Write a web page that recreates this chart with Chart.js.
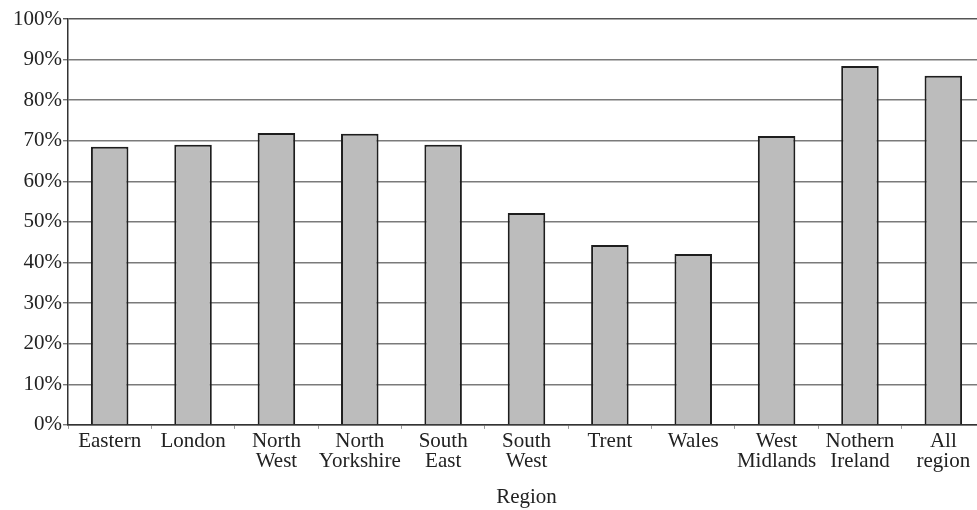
<!DOCTYPE html>
<html>
<head>
<meta charset="utf-8">
<script src="https://cdn.jsdelivr.net/npm/chart.js@4"></script>
<style>
  html, body { margin: 0; padding: 0; background: #fff; overflow: hidden; }
  #wrap { width: 977px; height: 510px; overflow: hidden; }
</style>
</head>
<body>
<div id="wrap"><canvas id="chart" width="985" height="510"></canvas></div>
<script>
const regions = [
    ['Eastern'], ['London'], ['North', 'West'], ['North', 'Yorkshire'], ['South', 'East'],
    ['South', 'West'], ['Trent'], ['Wales'], ['West', 'Midlands'], ['Nothern', 'Ireland'], ['All', 'region']
];
const shares = [68.5, 69.0, 71.9, 71.7, 69.0, 52.2, 44.3, 42.1, 71.2, 88.4, 86.0];
const yTicks = [0, 10, 20, 30, 40, 50, 60, 70, 80, 90, 100];

const tickFont = { family: '"Liberation Serif", "Times New Roman", serif', size: 21, lineHeight: 0.95 };
const titleFont = { family: '"Liberation Serif", "Times New Roman", serif', size: 21 };

const barConf = {
    type: 'bar',
    data: {
        labels: regions,
        datasets: [{
            data: shares,
            backgroundColor: '#bcbcbc',
            borderColor: '#1e1e1e',
            borderWidth: 2,
            barPercentage: 0.45,
            categoryPercentage: 1.0,
        }]
    },
    options: {
        responsive: false,
        animation: false,
        layout: { padding: { top: 19, right: 0, bottom: 0, left: 0 } },
        plugins: {
            legend: { display: false },
            tooltip: { enabled: false }
        },
        scales: {
            x: {
                grid: { display: true, drawOnChartArea: false, drawTicks: true, tickLength: 4, color: '#999', offset: true },
                border: { color: '#333', width: 1.5 },
                ticks: { color: '#222', font: tickFont, maxRotation: 0, autoSkip: false, padding: 3 },
                title: { display: true, text: 'Region', color: '#222', font: titleFont, padding: { top: 10, bottom: 0 } }
            },
            y: {
                min: 0,
                max: 100,
                afterBuildTicks: (axis) => { axis.ticks = yTicks.map(v => ({ value: v })); },
                afterFit: (axis) => { axis.width = 68; },
                grid: {
                    color: (ctx) => ctx.tick && ctx.tick.value === 100 ? '#555' : '#7a7a7a',
                    lineWidth: 1.4,
                    tickLength: 5
                },
                border: { color: '#333', width: 1.5 },
                ticks: { color: '#222', font: titleFont, padding: 1, callback: v => v + '%' }
            }
        }
    }
};

new Chart(document.getElementById('chart'), barConf);
</script>
</body>
</html>
